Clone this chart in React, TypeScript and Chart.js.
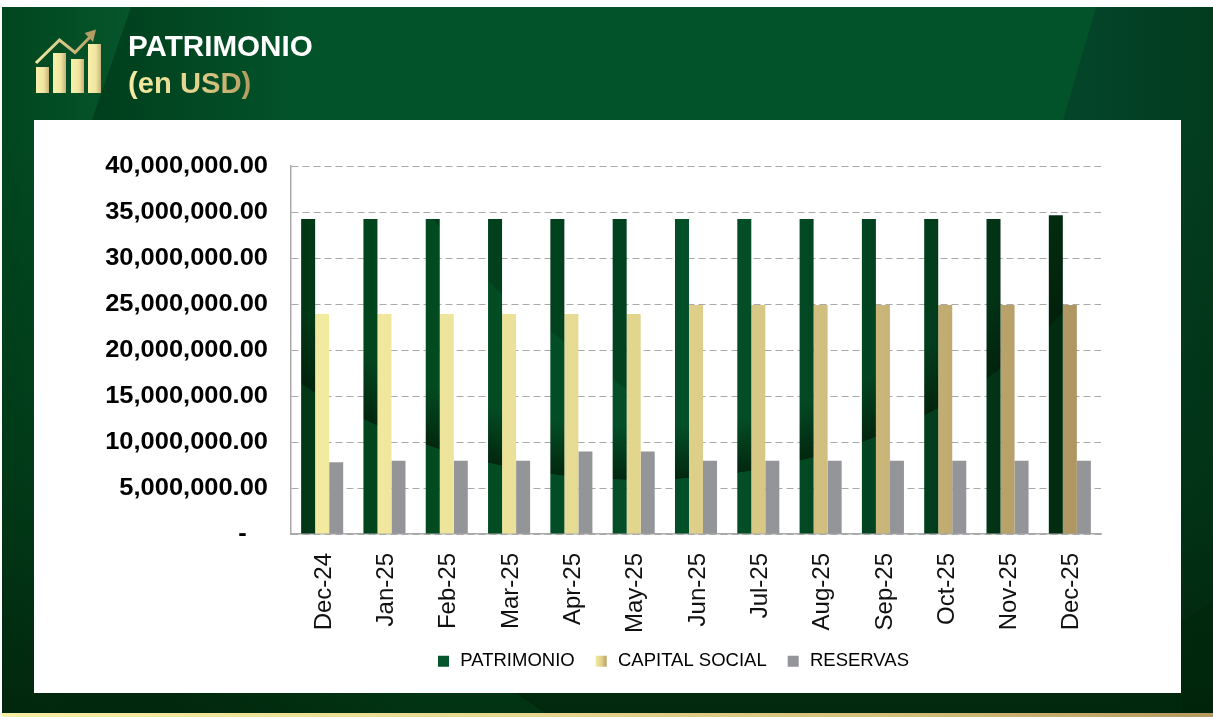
import React, { useEffect, useRef } from "react";
import { Chart, registerables } from "chart.js";

Chart.register(...registerables);

const months = ["Dec-24", "Jan-25", "Feb-25", "Mar-25", "Apr-25", "May-25", "Jun-25", "Jul-25", "Aug-25", "Sep-25", "Oct-25", "Nov-25", "Dec-25"];
const patrimonio = [34240000, 34240000, 34240000, 34240000, 34240000, 34240000, 34240000, 34240000, 34240000, 34240000, 34240000, 34240000, 34660000];
const capitalSocial = [23900000, 23900000, 23900000, 23900000, 23900000, 23900000, 24880000, 24880000, 24880000, 24880000, 24880000, 24880000, 24880000];
const reservas = [7800000, 7950000, 7950000, 7950000, 8980000, 8980000, 7950000, 7950000, 7950000, 7950000, 7950000, 7950000, 7950000];
const yTickLabels = ["-   ", "5,000,000.00", "10,000,000.00", "15,000,000.00", "20,000,000.00", "25,000,000.00", "30,000,000.00", "35,000,000.00", "40,000,000.00"];
const seriesNames = ["PATRIMONIO", "CAPITAL SOCIAL", "RESERVAS"];

const W = 1213;
const H = 717;
const FONT = "'Liberation Sans', Arial, Helvetica, sans-serif";

function poly(ctx: CanvasRenderingContext2D, pts: number[][], fill: any) {
  ctx.beginPath();
  pts.forEach((p, i) => (i ? ctx.lineTo(p[0], p[1]) : ctx.moveTo(p[0], p[1])));
  ctx.closePath();
  ctx.fillStyle = fill;
  ctx.fill();
}

function hGrad(ctx: CanvasRenderingContext2D, x0: number, x1: number, stops: [number, string][]) {
  const g = ctx.createLinearGradient(x0, 0, x1, 0);
  stops.forEach(([o, c]) => g.addColorStop(o, c));
  return g;
}

function paintPanel(ctx: CanvasRenderingContext2D) {
  ctx.save();
  ctx.fillStyle = "#ffffff";
  ctx.fillRect(0, 0, W, H);
  // green panel
  ctx.fillStyle = hGrad(ctx, 100, 300, [[0, "#003f1d"], [1, "#03532a"]]);
  ctx.fillRect(2, 7, W - 2, 706);
  poly(ctx, [[2, 7], [131, 7], [92, 120], [60, 713], [2, 713]], hGrad(ctx, 2, 130, [[0, "#00461f"], [1, "#06552b"]]));
  poly(ctx, [[1096, 7], [W, 7], [W, 713], [1040, 713], [1063, 120]], hGrad(ctx, 1070, W, [[0, "#04452a"], [1, "#023c1e"]]));
  // vertical darkening
  const v = ctx.createLinearGradient(0, 130, 0, 713);
  v.addColorStop(0, "rgba(1,36,10,0)");
  v.addColorStop(0.6, "rgba(1,36,10,0.4)");
  v.addColorStop(1, "rgba(1,36,10,0.92)");
  ctx.fillStyle = v;
  ctx.fillRect(2, 120, W - 2, 593);
  // lower shapes
  poly(ctx, [[170, 693], [515, 693], [545, 713], [170, 713]], hGrad(ctx, 170, 420, [[0, "rgba(2,72,28,0)"], [1, "rgba(2,72,28,0.35)"]]));
  poly(ctx, [[1181, 622], [W, 602], [W, 713], [1181, 713]], "rgba(1,34,8,0.35)");
  // gold strip
  ctx.fillStyle = hGrad(ctx, 2, W, [[0, "#f6eea3"], [0.45, "#e4d48d"], [0.75, "#d2bc78"], [1, "#b39a5f"]]);
  ctx.fillRect(2, 713, W - 2, 4);
  // white card
  ctx.fillStyle = "#ffffff";
  ctx.fillRect(34, 120, 1147, 573);
  ctx.restore();
}

function makeBarTexture() {
  const c = document.createElement("canvas");
  c.width = W;
  c.height = H;
  const t = c.getContext("2d") as CanvasRenderingContext2D;
  t.fillStyle = hGrad(t, 291, 1101, [
    [0, "#023414"], [0.03, "#023a17"], [0.1, "#02451d"], [0.18, "#024a20"], [0.3, "#024d25"],
    [0.5, "#034f28"], [0.56, "#034e26"], [0.637, "#024823"], [0.715, "#024421"], [0.79, "#023d1c"],
    [0.87, "#023316"], [0.94, "#022c10"], [0.985, "#012a0c"], [1, "#012a0c"],
  ]);
  t.fillRect(0, 0, W, H);
  // upper-left diagonal shade
  poly(t, [[420, 205], [640, 205], [640, 400], [497, 290]], "rgba(1,40,16,0.32)");
  // dark swoosh: an ellipse whose lower rim is the curved edge seen in the bars
  t.save();
  t.translate(640, 100);
  t.scale(510, 380);
  const r = t.createRadialGradient(0, 0, 0, 0, 0, 1);
  r.addColorStop(0, "rgba(1,30,10,0)");
  r.addColorStop(0.86, "rgba(1,30,10,0)");
  r.addColorStop(0.999, "rgba(1,30,10,0.8)");
  r.addColorStop(1, "rgba(1,30,10,0)");
  t.fillStyle = r;
  t.beginPath();
  t.arc(0, 0, 1, 0, Math.PI * 2);
  t.fill();
  t.restore();
  return t.createPattern(c, "no-repeat");
}

export default function App() {
  const ref = useRef<HTMLCanvasElement>(null);

  useEffect(() => {
    const canvas = ref.current as HTMLCanvasElement;
    const ctx = canvas.getContext("2d") as CanvasRenderingContext2D;
    const texture = makeBarTexture();
    const capitalFill = hGrad(ctx, 300, 1095, [[0, "#f3eba0"], [0.25, "#ece29a"], [0.4, "#e3d78f"], [0.6, "#d7c684"], [0.8, "#c2ad72"], [1, "#ac9360"]]);
    const markerFill = hGrad(ctx, 595, 608, [[0, "#f5eda3"], [0.5, "#e0d08a"], [1, "#b09660"]]);

    const layoutPlugin = {
      id: "panelAndLegend",
      afterLayout(chart: any) {
        const l = chart.legend;
        l.left = 246;
        l.right = 1099;
        const shift = 663 - (l.top + l.options.labels.padding + l.options.labels.font.size * 0.6);
        l.top += shift;
        l.bottom += shift;
        const y = chart.scales.y;
        if (!y.__wrapped) {
          y.__wrapped = true;
          const orig = y.drawLabels;
          y.drawLabels = function (area: any) {
            // the reference's value labels are horizontally stretched
            const c = chart.ctx;
            c.save();
            c.translate(268, 1);
            c.scale(1.107, 1);
            c.translate(-268, 0);
            orig.call(this, area);
            c.restore();
          };
        }
      },
      beforeDraw(chart: any) {
        paintPanel(chart.ctx);
      },
    };

    const chart = new Chart(canvas, {
      type: "bar",
      data: {
        labels: months,
        datasets: [
          { label: seriesNames[0], data: patrimonio, backgroundColor: texture as any },
          { label: seriesNames[1], data: capitalSocial, backgroundColor: capitalFill },
          { label: seriesNames[2], data: reservas, backgroundColor: "#939598" },
        ],
      },
      options: {
        animation: false,
        responsive: false,
        layout: { padding: { left: 34, right: 112, top: 166, bottom: 0 } },
        datasets: { bar: { categoryPercentage: 0.675, barPercentage: 1 } },
        plugins: {
          title: { display: false },
          tooltip: { enabled: false },
          legend: {
            position: "bottom",
            labels: {
              boxWidth: 15,
              boxHeight: 15,
              padding: 19,
              color: "#111111",
              font: { family: FONT, size: 18.5 },
              generateLabels: () =>
                seriesNames.map((text, i) => ({
                  text,
                  fillStyle: i === 0 ? "#06562d" : i === 1 ? markerFill : "#939598",
                  strokeStyle: "#ffffff",
                  lineWidth: 4,
                  hidden: false,
                  datasetIndex: i,
                })),
            },
          },
        },
        scales: {
          x: {
            grid: { display: false },
            border: { display: true, color: "#a9a9a9", width: 1.5 },
            afterFit: (axis: any) => {
              axis.height = H - 534 - axis.chart.legend.height;
            },
            ticks: {
              minRotation: 90,
              maxRotation: 90,
              autoSkip: false,
              padding: 11,
              labelOffset: 2,
              color: "#111111",
              font: { family: FONT, size: 24 },
            },
          },
          y: {
            min: 0,
            max: 40000000,
            afterFit: (axis: any) => {
              axis.width = 257;
            },
            grid: { color: "#a9a9a9", lineWidth: 1, drawTicks: false },
            border: { display: true, color: "#a9a9a9", width: 1.5, dash: [7, 4] },
            ticks: {
              stepSize: 5000000,
              padding: 23,
              color: "#000000",
              font: { family: FONT, size: 23, weight: "bold" },
              callback: (_v: any, i: number) => yTickLabels[i],
            },
          },
        },
      },
      plugins: [layoutPlugin],
    } as any);
    return () => chart.destroy();
  }, []);

  const goldText: React.CSSProperties = {
    position: "absolute",
    left: 128,
    top: 65,
    font: `bold 29.2px/36px ${FONT}`,
    background: "linear-gradient(90deg,#f5eda3 0%,#e2d38c 55%,#b39a60 100%)",
    WebkitBackgroundClip: "text",
    backgroundClip: "text",
    color: "transparent",
    whiteSpace: "nowrap",
  };

  return (
    <div style={{ position: "fixed", left: 0, top: 0, width: W, height: H, overflow: "hidden", background: "#fff" }}>
      <canvas ref={ref} width={W} height={H} style={{ position: "absolute", left: 0, top: 0, display: "block" }} />
      <svg width={90} height={80} viewBox="25 20 90 80" style={{ position: "absolute", left: 25, top: 20 }}>
        <defs>
          <linearGradient id="barG" x1="0" x2="1" y1="0" y2="0">
            <stop offset="0" stopColor="#f8f0aa" />
            <stop offset="0.6" stopColor="#f0e5a0" />
            <stop offset="1" stopColor="#c6b179" />
          </linearGradient>
          <linearGradient id="lineG" gradientUnits="userSpaceOnUse" x1="36" x2="96" y1="0" y2="0">
            <stop offset="0" stopColor="#f3e9a2" />
            <stop offset="1" stopColor="#b59c63" />
          </linearGradient>
        </defs>
        <rect x="36" y="67" width="13" height="26" fill="url(#barG)" />
        <rect x="53" y="53" width="13" height="40" fill="url(#barG)" />
        <rect x="71" y="59" width="13" height="34" fill="url(#barG)" />
        <rect x="88" y="44" width="13" height="49" fill="url(#barG)" />
        <polyline points="36,63 59.5,40 75,52.5 90,37" fill="none" stroke="url(#lineG)" strokeWidth="3" />
        <polygon points="96,29.5 84.5,33 93,42" fill="#b59c63" />
      </svg>
      <div style={{ position: "absolute", left: 128, top: 28, font: `bold 29.6px/36px ${FONT}`, color: "#ffffff", whiteSpace: "nowrap" }}>PATRIMONIO</div>
      <div style={goldText}>(en USD)</div>
    </div>
  );
}
